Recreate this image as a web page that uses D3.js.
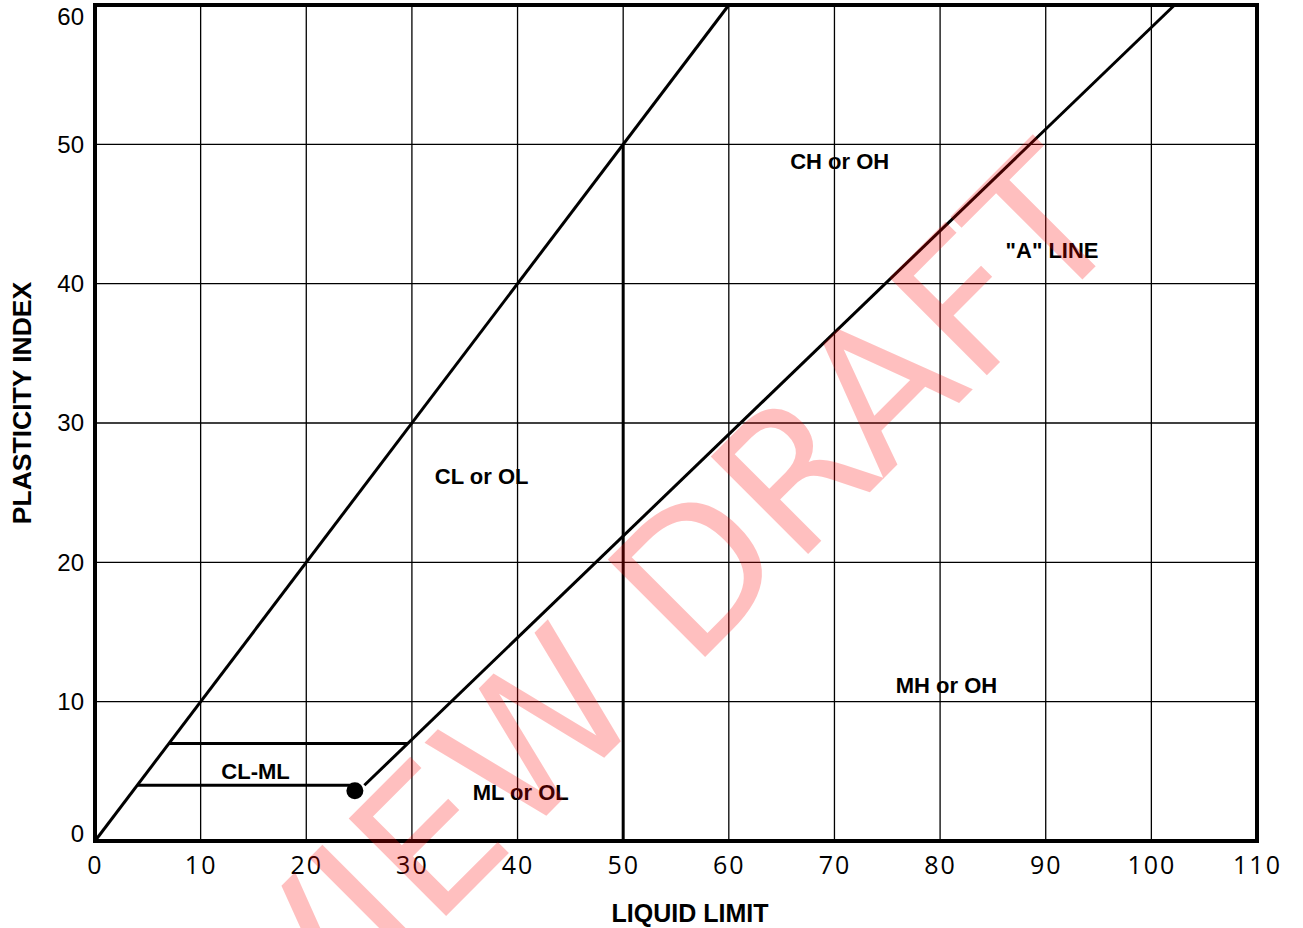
<!DOCTYPE html>
<html>
<head>
<meta charset="utf-8">
<script src="https://cdn.jsdelivr.net/npm/d3@7"></script>
<style>
  body { margin: 0; background: #fff; }
</style>
</head>
<body>
<div id="chart"></div>
<script>
// Axis ticks
const xTicks = [0, 10, 20, 30, 40, 50, 60, 70, 80, 90, 100, 110];
const yTicks = [0, 10, 20, 30, 40, 50, 60];

// Boundary lines in (liquid limit, plasticity index)
const uLine = [[0, 0], [60, 60]];
const aLine = [[25.5, 4], [102.2, 60]];
const llDivide = [[50, 0], [50, 50]];
const clmlTop = [[7, 7], [29.6, 7]];
const clmlBottom = [[4, 4], [24.6, 4]];
const dotPoint = [24.6, 3.6];

// Zone labels
const zoneNames = ["CH or OH", "\"A\" LINE", "CL or OL", "MH or OH", "ML or OL", "CL-ML"];
const zoneLL = [70.5, 90.6, 36.6, 80.6, 40.3, 15.2];
const zonePI = [48.8, 42.4, 26.2, 11.2, 3.5, 5.0];

// Dimensions
const margin = { top: 5, right: 46, bottom: 87, left: 95 };
const width = 1303 - margin.left - margin.right;
const height = 928 - margin.top - margin.bottom;

const root = d3.select("#chart")
  .append("svg")
  .attr("width", 1303)
  .attr("height", 928);

const svg = root.append("g")
  .attr("transform", `translate(${margin.left},${margin.top})`);

// Scales
const x = d3.scaleLinear().domain([0, 110]).range([0, width]);
const y = d3.scaleLinear().domain([0, 60]).range([height, 0]);

// Grid lines
svg.append("g")
  .selectAll("line")
  .data(xTicks.slice(1, -1))
  .enter()
  .append("line")
  .attr("x1", d => x(d)).attr("x2", d => x(d))
  .attr("y1", 0).attr("y2", height)
  .attr("stroke", "#000").attr("stroke-width", 1.3);

svg.append("g")
  .selectAll("line")
  .data(yTicks.slice(1, -1))
  .enter()
  .append("line")
  .attr("x1", 0).attr("x2", width)
  .attr("y1", d => y(d)).attr("y2", d => y(d))
  .attr("stroke", "#000").attr("stroke-width", 1.3);

// Boundary lines
const line = d3.line().x(d => x(d[0])).y(d => y(d[1]));
[uLine, aLine, llDivide, clmlTop, clmlBottom].forEach(seg => {
  svg.append("path")
    .datum(seg)
    .attr("d", line)
    .attr("fill", "none")
    .attr("stroke", "#000")
    .attr("stroke-width", 3);
});

svg.append("circle")
  .attr("cx", x(dotPoint[0]))
  .attr("cy", y(dotPoint[1]))
  .attr("r", 8.5)
  .attr("fill", "#000");

// Frame
svg.append("rect")
  .attr("width", width)
  .attr("height", height)
  .attr("fill", "none")
  .attr("stroke", "#000")
  .attr("stroke-width", 4);

// X axis labels
const xAxis = svg.append("g")
  .attr("transform", `translate(0,${height})`)
  .call(d3.axisBottom(x).tickValues(xTicks).tickSize(0).tickPadding(15));
xAxis.select(".domain").remove();
xAxis.selectAll("text")
  .attr("font-family", "'Open Sans', sans-serif")
  .attr("font-size", 25)
  .attr("letter-spacing", 2)
  .attr("fill", "#000");

// Y axis labels
const yAxis = svg.append("g")
  .call(d3.axisLeft(y).tickValues(yTicks).tickSize(0).tickPadding(11));
yAxis.select(".domain").remove();
yAxis.selectAll("text")
  .attr("font-family", "'Liberation Sans', Arial, sans-serif")
  .attr("font-size", 24)
  .attr("fill", "#000")
  .attr("dy", d => d === 60 ? "0.8em" : d === 0 ? "0em" : "0.32em");

// Axis titles
root.append("text")
  .attr("x", 690)
  .attr("y", 922)
  .attr("text-anchor", "middle")
  .attr("font-family", "'Liberation Sans', Arial, sans-serif")
  .attr("font-weight", "bold")
  .attr("font-size", 25)
  .text("LIQUID LIMIT");

root.append("text")
  .attr("transform", "rotate(-90)")
  .attr("x", -403)
  .attr("y", 31)
  .attr("text-anchor", "middle")
  .attr("font-family", "'Liberation Sans', Arial, sans-serif")
  .attr("font-weight", "bold")
  .attr("font-size", 26.5)
  .text("PLASTICITY INDEX");

// Zone labels
zoneNames.forEach((name, i) => {
  svg.append("text")
    .attr("x", x(zoneLL[i]))
    .attr("y", y(zonePI[i]))
    .attr("dy", "0.36em")
    .attr("text-anchor", "middle")
    .attr("font-family", "'Liberation Sans', Arial, sans-serif")
    .attr("font-weight", "bold")
    .attr("font-size", 22)
    .text(name);
});

// Watermark
root.append("text")
  .attr("transform", "translate(1130,232) rotate(-45)")
  .attr("text-anchor", "end")
  .attr("font-family", "'DejaVu Sans', sans-serif")
  .attr("font-size", 189)
  .attr("fill", "red")
  .attr("fill-opacity", 0.25)
  .text("PREVIEW DRAFT");
</script>
</body>
</html>
